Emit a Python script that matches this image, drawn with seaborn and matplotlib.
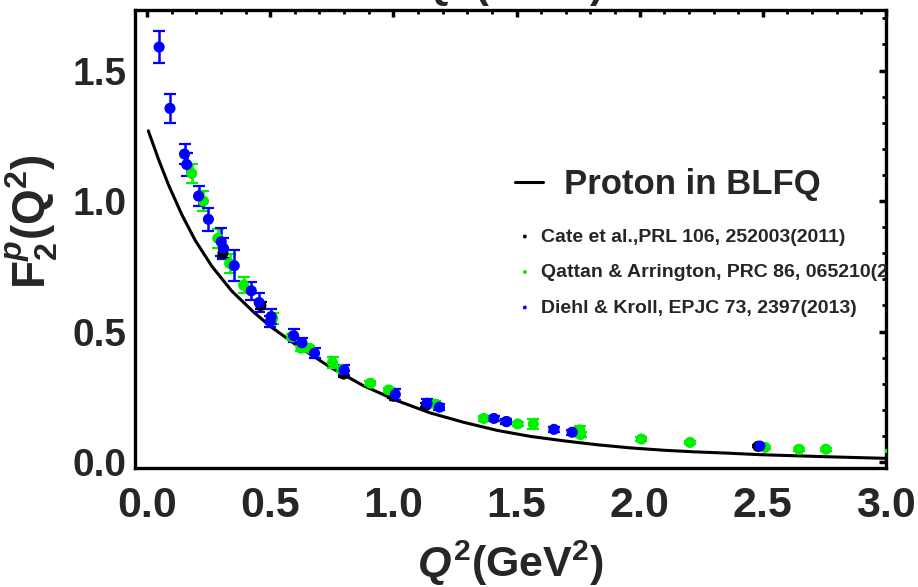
import numpy as np
import pandas as pd
import matplotlib
matplotlib.use("Agg")
import matplotlib.pyplot as plt
from matplotlib import font_manager
from matplotlib.ticker import MultipleLocator
import seaborn as sns

# ---------------- data ----------------
curve_q2 = [0.005, 0.046, 0.087, 0.141, 0.195, 0.263, 0.344, 0.432, 0.5, 0.608,
            0.744, 0.879, 1.015, 1.15, 1.286, 1.422, 1.557, 1.693, 1.828, 1.963,
            2.099, 2.22, 2.356, 2.49, 2.627, 2.763, 3.0]
curve_f2 = [1.269, 1.161, 1.062, 0.948, 0.850, 0.750, 0.655, 0.575, 0.520, 0.447,
            0.363, 0.292, 0.235, 0.188, 0.152, 0.121, 0.098, 0.081, 0.066, 0.054,
            0.045, 0.039, 0.034, 0.028, 0.024, 0.020, 0.014]

cate_q2 = [0.308, 0.462, 0.798, 1.0, 1.134, 1.459, 2.48]
cate_f2 = [0.800, 0.600, 0.337, 0.252, 0.218, 0.155, 0.060]
cate_err = [0.02, 0.015, 0.01, 0.008, 0.008, 0.006, 0.004]

qattan_q2 = [0.181, 0.229, 0.287, 0.335, 0.392, 0.51, 0.588, 0.625, 0.659, 0.753,
             0.791, 0.907, 0.981, 1.171, 1.367, 1.505, 1.568, 1.757, 1.76, 2.007,
             2.204, 2.509, 2.647, 2.756, 3.02]
qattan_f2 = [1.106, 1.0, 0.857, 0.761, 0.678, 0.55, 0.48, 0.436, 0.436, 0.381,
             0.355, 0.302, 0.276, 0.222, 0.167, 0.146, 0.146, 0.123, 0.105, 0.088,
             0.075, 0.056, 0.049, 0.049, 0.042]
qattan_err = [0.037, 0.04, 0.037, 0.035, 0.03, 0.02, 0.01, 0.01, 0.008, 0.02,
              0.01, 0.008, 0.008, 0.01, 0.008, 0.008, 0.02, 0.015, 0.01, 0.008,
              0.006, 0.006, 0.005, 0.005, 0.005]

diehl_q2 = [0.049, 0.093, 0.152, 0.161, 0.209, 0.249, 0.301, 0.31, 0.354, 0.423,
            0.455, 0.504, 0.5, 0.595, 0.629, 0.68, 0.8, 1.008, 1.137, 1.187,
            1.408, 1.459, 1.652, 1.726, 2.488]
diehl_f2 = [1.59, 1.355, 1.180, 1.14, 1.019, 0.93, 0.844, 0.819, 0.752, 0.656,
            0.611, 0.557, 0.538, 0.484, 0.457, 0.417, 0.352, 0.259, 0.225, 0.21,
            0.167, 0.155, 0.125, 0.114, 0.061]
diehl_err = [0.06, 0.055, 0.038, 0.045, 0.037, 0.045, 0.054, 0.04, 0.06, 0.035,
             0.035, 0.03, 0.02, 0.025, 0.02, 0.02, 0.02, 0.02, 0.015, 0.012,
             0.01, 0.01, 0.01, 0.01, 0.008]

series_labels = ["Cate et al.,PRL 106, 252003(2011)",
                 "Qattan & Arrington, PRC 86, 065210(2012)",
                 "Diehl & Kroll, EPJC 73, 2397(2013)"]
series_colors = ["#000000", "#00f000", "#0000ff"]
curve_label = "Proton in BLFQ"
x_ticks = [0.0, 0.5, 1.0, 1.5, 2.0, 2.5, 3.0]
y_ticks = [0.0, 0.5, 1.0, 1.5]

# ---------------- style ----------------
sns.set_style("white")
plt.rcParams["font.family"] = ["Liberation Sans", "DejaVu Sans"]
plt.rcParams["font.weight"] = "bold"
plt.rcParams["mathtext.fontset"] = "custom"
plt.rcParams["mathtext.rm"] = "Liberation Sans:bold"
plt.rcParams["mathtext.bf"] = "Liberation Sans:bold"
plt.rcParams["mathtext.it"] = "Liberation Sans:bold:italic"

def has_font(name):
    try:
        font_manager.findfont(font_manager.FontProperties(family=name),
                              fallback_to_default=False)
        return True
    except Exception:
        return False

narrow = "Liberation Sans Narrow" if has_font("Liberation Sans Narrow") else "Liberation Sans"

fig = plt.figure(figsize=(9.18, 5.87), dpi=100)
ax = fig.add_axes([135 / 918, 1 - 468 / 587, (886 - 135) / 918, (468 - 10) / 587])

df_curve = pd.DataFrame({"q2": curve_q2, "f2": curve_f2})
sns.lineplot(data=df_curve, x="q2", y="f2", ax=ax, color="black", lw=2.2,
             sort=False, label=curve_label, legend=False, zorder=2)

datasets = [(cate_q2, cate_f2, cate_err), (qattan_q2, qattan_f2, qattan_err),
            (diehl_q2, diehl_f2, diehl_err)]
frames = []
for (q, f, e), lab in zip(datasets, series_labels):
    frames.append(pd.DataFrame({"q2": q, "f2": f, "err": e, "set": lab}))
df = pd.concat(frames, ignore_index=True)

for (q, f, e), lab, col in zip(datasets, series_labels, series_colors):
    ax.errorbar(q, f, yerr=e, fmt="none", ecolor=col, elinewidth=1.8,
                capsize=4, capthick=1.6, zorder=3)
    sub = df[df["set"] == lab]
    sns.scatterplot(data=sub, x="q2", y="f2", ax=ax, color=col, s=64,
                    edgecolor="none", label=lab, legend=False, zorder=4)

ax.set_xlim(-0.049, 3.0)
ax.set_ylim(-0.023, 1.732)
ax.set_xticks(x_ticks)
ax.set_yticks(y_ticks)
ax.xaxis.set_minor_locator(MultipleLocator(0.1))
ax.yaxis.set_minor_locator(MultipleLocator(0.1))
ax.set_xticklabels([f"{v:.1f}" for v in x_ticks], fontsize=31, fontweight="bold",
                   family=narrow)
ax.set_yticklabels([f"{v:.1f}" for v in y_ticks], fontsize=28, fontweight="bold")
ax.tick_params(which="both", direction="in", top=True, right=True, color="black")
ax.tick_params(which="major", length=5, width=2.5)
ax.tick_params(which="minor", length=3, width=2)
ax.tick_params(axis="x", which="major", pad=13)
ax.tick_params(axis="y", which="major", pad=6)
for s in ax.spines.values():
    s.set_linewidth(2.4)
    s.set_color("black")

ax.set_xlabel(r"$Q^{2}$(GeV$^{2}$)", fontsize=31, fontweight="bold", family=narrow,
              labelpad=9)
ax.set_ylabel(r"F$_{2}^{p}$(Q$^{2}$)", fontsize=33, fontweight="bold")
ax.yaxis.set_label_coords((60 - 135) / 751, (468 - 222) / 458)

# clipped title at top
fig.text(0.558, 1 - 8 / 587, r"$Q^{2}$(GeV$^{2}$)", fontsize=30, fontweight="bold",
         family=narrow, ha="center", va="bottom")

# legends
h_line = ax.get_lines()[0]
leg1 = ax.legend([h_line], [curve_label], loc="upper left",
                 bbox_to_anchor=(515 / 918, 1 - 168 / 587), bbox_transform=fig.transFigure,
                 frameon=False, fontsize=25, handlelength=0.8, handletextpad=0.6,
                 borderpad=0, borderaxespad=0)
for t in leg1.get_texts():
    t.set_fontweight("bold")
ax.add_artist(leg1)

handles = [c for c in ax.collections if c.get_label() in series_labels]
leg2 = ax.legend(handles, series_labels, loc="upper left",
                 bbox_to_anchor=(519 / 918, 1 - 228 / 587), bbox_transform=fig.transFigure,
                 frameon=False, fontsize=14, markerscale=0.35, handlelength=0.6,
                 handletextpad=0.55, labelspacing=0.92, borderpad=0, borderaxespad=0)
for t in leg2.get_texts():
    t.set_fontweight("bold")
    t.set_clip_on(True)
    t.set_clip_box(ax.bbox)

fig.savefig("out.png", dpi=100)
